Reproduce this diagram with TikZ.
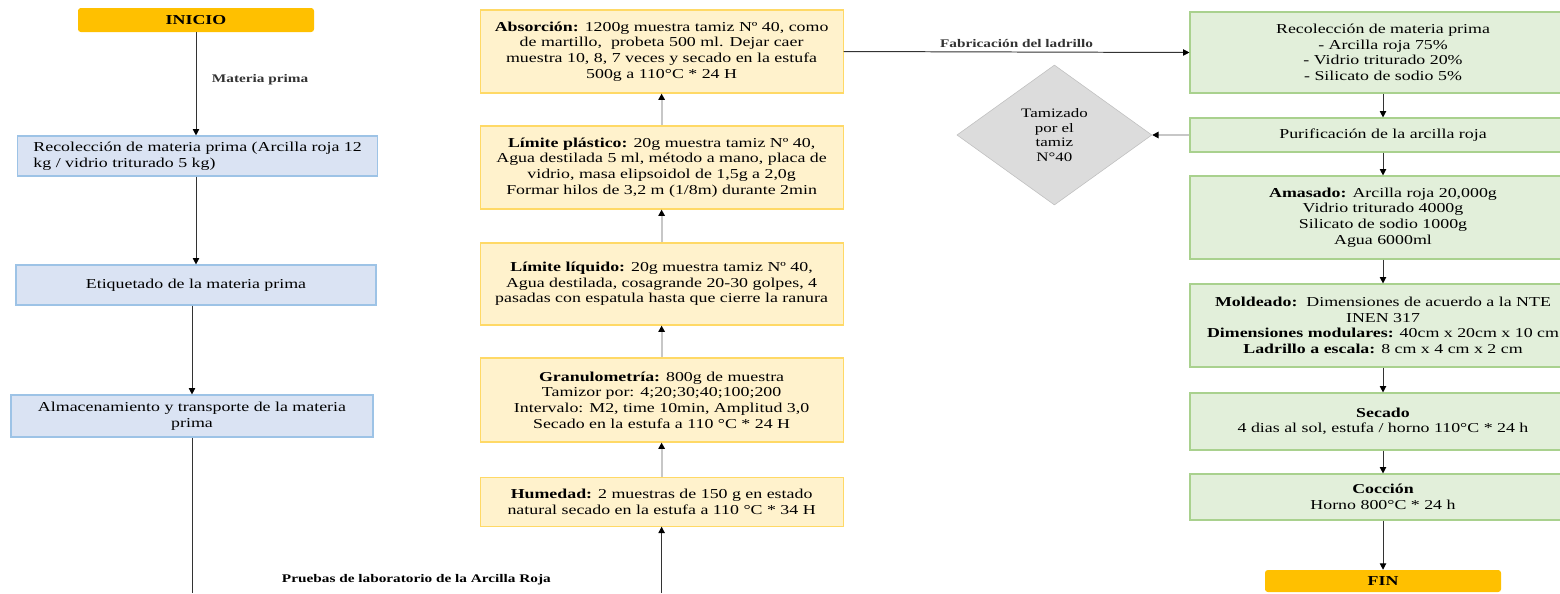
\documentclass[tikz,border=0pt]{standalone}
\usepackage{fontspec}
\setmainfont{Liberation Serif}[FakeStretch=1.31]
\usetikzlibrary{arrows.meta,shapes.geometric}
\definecolor{oro}{HTML}{FFC000}
\definecolor{azulfondo}{HTML}{DAE3F3}
\definecolor{azulborde}{HTML}{9DC3E6}
\definecolor{amafondo}{HTML}{FFF2CC}
\definecolor{amaborde}{HTML}{FFD966}
\definecolor{verdefondo}{HTML}{E2EFDA}
\definecolor{verdeborde}{HTML}{A9D18E}
\definecolor{grisfondo}{HTML}{DCDCDC}
\tikzset{
  txt/.style={font=\fontsize{9.7pt}{11.1pt}\selectfont, align=center, inner sep=0pt},
  lbl/.style={font=\fontsize{8.3pt}{9.5pt}\selectfont\bfseries, inner sep=1pt},
  term/.style={fill=oro, rounded corners=2pt, minimum width=5.9cm, minimum height=0.6cm,
    font=\fontsize{9.7pt}{11.1pt}\selectfont\bfseries},
  azul/.style={txt, draw=azulborde, fill=azulfondo, line width=0.8pt, minimum width=9cm, minimum height=1cm},
  ama/.style={txt, draw=amaborde, fill=amafondo, line width=0.8pt, minimum width=9.075cm},
  verde/.style={txt, draw=verdeborde, fill=verdefondo, line width=0.8pt, minimum width=9.65cm},
  rombo/.style={txt, diamond, draw=black!25, fill=grisfondo, minimum width=4.875cm, minimum height=3.5cm,
    font=\fontsize{9.2pt}{10.4pt}\selectfont},
  flecha/.style={line width=0.7pt, black!80, -{Triangle[length=4.5pt,width=4.5pt,color=black]}},
  flechagris/.style={line width=1.4pt, black!22, -{Triangle[length=4.5pt,width=4.5pt,color=black]}}
}
\begin{document}
\begin{tikzpicture}
  % picture frame
  \clip (0,0) rectangle (39,-14.825);
  % left column
  \node[term] (inicio) at (4.9,-0.5) {INICIO};
  \node[azul, align=left, minimum height=1cm] (rec) at (4.94,-3.9) {Recolección de materia prima (Arcilla roja 12\\kg / vidrio triturado 5 kg)};
  \node[azul] (etiq) at (4.9,-7.125) {Etiquetado de la materia prima};
  \node[azul, minimum width=9.05cm, minimum height=1.05cm] (alm) at (4.8,-10.4) {Almacenamiento y transporte de la materia\\prima};
  \coordinate (bajoA) at (4.8,-14.825);
  \draw[flecha] (inicio.south) -- node[pos=0.46, right=10pt, lbl] (mp) {Materia prima} (inicio.south |- rec.north);
  \draw[flecha, line width=0.5pt] (etiq.north |- rec.south) -- (etiq.north);
  \draw[flecha, line width=0.5pt] (alm.north |- etiq.south) -- (alm.north);
  \draw[line width=0.7pt, black!80] (alm.south) -- (bajoA);
  \node[lbl] (pruebas) at (10.41,-14.5) {Pruebas de laboratorio de la Arcilla Roja};
  % laboratory tests
  \node[ama, minimum height=2.075cm] (abs) at (16.54,-1.2875) {\textbf{Absorción:} 1200g muestra tamiz Nº 40, como\\de martillo,\ \ probeta 500 ml. Dejar caer\\muestra 10, 8, 7 veces y secado en la estufa\\500g a 110°C * 24 H};
  \node[ama, minimum height=2.075cm] (plas) at (16.54,-4.1875) {\textbf{Límite plástico:} 20g muestra tamiz Nº 40,\\Agua destilada 5 ml, método a mano, placa de\\vidrio, masa elipsoidol de 1,5g a 2,0g\\Formar hilos de 3,2 m (1/8m) durante 2min};
  \node[ama, minimum height=2.05cm] (liq) at (16.54,-7.1) {\textbf{Límite líquido:} 20g muestra tamiz Nº 40,\\Agua destilada, cosagrande 20-30 golpes, 4\\pasadas con espatula hasta que cierre la ranura};
  \node[ama, minimum height=2.1cm] (gran) at (16.54,-10) {\textbf{Granulometría:} 800g de muestra\\Tamizor por: 4;20;30;40;100;200\\Intervalo: M2, time 10min, Amplitud 3,0\\Secado en la estufa a 110 °C * 24 H};
  \node[ama, minimum height=1.225cm] (hum) at (16.54,-12.54) {\textbf{Humedad:} 2 muestras de 150 g en estado\\natural secado en la estufa a 110 °C * 34 H};
  \coordinate (bajoB) at (16.54,-14.825);
  \draw[flecha] (bajoB) -- (hum.south);
  \foreach \a/\b in {hum/gran,gran/liq,liq/plas,plas/abs}{
      \draw[flechagris] (\a.north) -- (\b.south);
    }
  % brick production
  \node[verde, minimum height=2.025cm] (grec) at (34.575,-1.3125) {Recolección de materia prima\\- Arcilla roja 75\%\\- Vidrio triturado 20\%\\- Silicato de sodio 5\%};
  \node[verde, minimum height=0.85cm] (pur) at (34.575,-3.375) {Purificación de la arcilla roja};
  \node[verde, minimum height=2.075cm] (amas) at (34.575,-5.4375) {\textbf{Amasado:} Arcilla roja 20,000g\\Vidrio triturado 4000g\\Silicato de sodio 1000g\\Agua 6000ml};
  \node[verde, minimum height=2.075cm] (mold) at (34.575,-8.1375) {\textbf{Moldeado:}\ \ Dimensiones de acuerdo a la NTE\\INEN 317\\\textbf{Dimensiones modulares:} 40cm x 20cm x 10 cm\\\textbf{Ladrillo a escala:} 8 cm x 4 cm x 2 cm};
  \node[verde, minimum height=1.425cm] (sec) at (34.575,-10.5375) {\textbf{Secado}\\4 dias al sol, estufa / horno 110°C * 24 h};
  \node[verde, minimum height=1.15cm] (coc) at (34.575,-12.425) {\textbf{Cocción}\\Horno 800°C * 24 h};
  \node[term, minimum height=0.55cm] (fin) at (34.575,-14.525) {FIN};
  \node[rombo] (tam) at (26.36,-3.375) {Tamizado\\por el\\tamiz\\N°40};
  \draw[flecha] (abs.east) -- node[above=2pt, lbl] (fab) {Fabricación del ladrillo} (grec.west);
  \foreach \a/\b in {grec/pur,pur/amas,amas/mold,mold/sec,sec/coc,coc/fin}{
      \draw[flecha] (\a.south) -- (\b.north);
    }
  \draw[flechagris] (pur.west) -- (tam.east);
\end{tikzpicture}
\end{document}
